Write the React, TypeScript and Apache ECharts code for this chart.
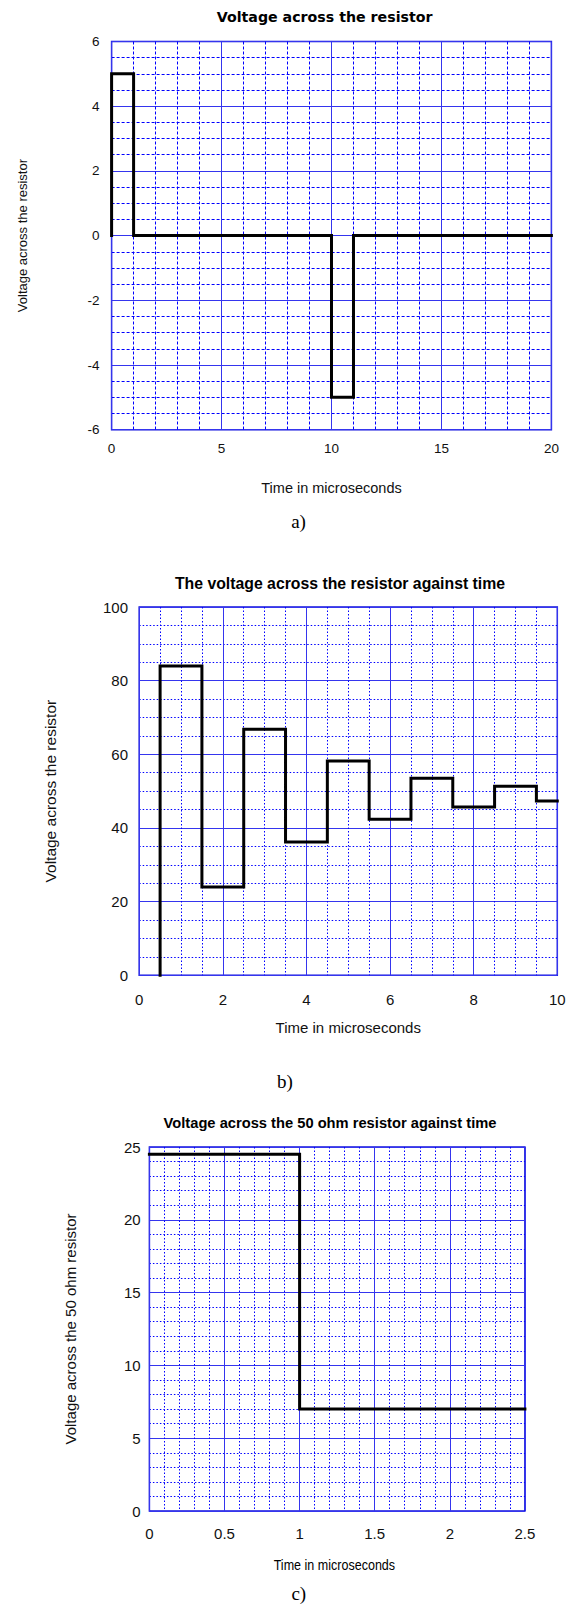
import React, { useEffect, useRef } from "react";
import * as echarts from "echarts";

// ---------- Data ----------
// Chart a) : edges (time, µs) and voltage levels between the edges
const edgesA = [0, 1, 10, 11, 20];
const levelsA = [5, 0, -5, 0];
const baseA = 0;

// Chart b)
const edgesB = [0.5, 1.5, 2.5, 3.5, 4.5, 5.5, 6.5, 7.5, 8.5, 9.5, 10];
const levelsB = [84, 24, 66.8, 36.2, 58.2, 42.4, 53.5, 45.7, 51.3, 47.3];
const baseB = 0;

// Chart c)
const edgesC = [0, 1, 2.5];
const levelsC = [24.5, 7];

// Axis ranges [min, max, interval, minorSplits]
const xAxisA = [0, 20, 5, 5];
const yAxisA = [-6, 6, 2, 4];
const xAxisB = [0, 10, 2, 4];
const yAxisB = [0, 100, 20, 4];
const xAxisC = [0, 2.5, 0.5, 5];
const yAxisC = [0, 25, 5, 5];

const titles = [
  "Voltage across the resistor",
  "The voltage across the resistor against time",
  "Voltage across the 50 ohm resistor against time",
];
const yNames = [
  "Voltage across the resistor",
  "Voltage across the resistor",
  "Voltage across the 50 ohm resistor",
];
const xName = "Time in microseconds";
const subLabels = ["a)", "b)", "c)"];

function stepVertices(edges: number[], levels: number[], base: number | null) {
  const pts: number[][] = [];
  if (base !== null) pts.push([edges[0], base]);
  for (let i = 0; i < levels.length; i++) {
    pts.push([edges[i], levels[i]]);
    pts.push([edges[i + 1], levels[i]]);
  }
  return pts;
}

const ARIAL = '"Liberation Sans", Arial, sans-serif';
const DEJAVU = '"DejaVu Sans", Verdana, sans-serif';
const SERIF = '"Liberation Serif", "Times New Roman", serif';

const MAJOR = "#3535ee";
const MINOR = "#0000ff";

function makeAxis(
  dir: "x" | "y",
  idx: number,
  r: number[],
  name: string,
  labelSize: number,
  margin: number,
  nameSize: number,
  nameGap: number,
  dash: any
) {
  return {
    type: "value",
    gridIndex: idx,
    min: r[0],
    max: r[1],
    interval: r[2],
    name,
    nameLocation: "middle",
    nameGap,
    nameRotate: dir === "y" ? 90 : 0,
    nameTextStyle: { color: "#111", fontSize: nameSize, fontFamily: ARIAL },
    axisLine: { show: false },
    axisTick: { show: false },
    minorTick: { show: false, splitNumber: r[3] },
    axisLabel: { color: "#111", fontSize: labelSize, fontFamily: ARIAL, margin },
    splitLine: { show: true, lineStyle: { color: MAJOR, width: 1, type: "solid" } },
    minorSplitLine: { show: true, lineStyle: { color: MINOR, width: 1, type: dash } },
  };
}

function textEl(text: string, x: number, y: number, font: string, scaleX = 1) {
  return {
    type: "text",
    x,
    y,
    scaleX,
    silent: true,
    style: {
      text,
      font,
      fill: "#000",
      textAlign: "center",
      textVerticalAlign: "middle",
      align: "center",
      verticalAlign: "middle",
    },
  };
}

export default function App() {
  const ref = useRef<HTMLDivElement>(null);

  useEffect(() => {
    if (!ref.current) return;
    const chart = echarts.init(ref.current, undefined, { renderer: "svg" });

    const lineSeries = (idx: number, data: number[][]) => ({
      type: "line",
      xAxisIndex: idx,
      yAxisIndex: idx,
      data,
      showSymbol: false,
      symbol: "none",
      clip: false,
      lineStyle: { color: "#000", width: 3, join: "miter", cap: "square" },
      z: 5,
    });

    const option: any = {
      animation: false,
      backgroundColor: "#fff",
      grid: [
        { left: 111.6, top: 41.5, width: 439.8, height: 388.2, show: true, borderColor: "#1010dd", borderWidth: 1.5 },
        { left: 139.2, top: 607, width: 418.1, height: 368.3, show: true, borderColor: "#1010dd", borderWidth: 1.5 },
        { left: 149.4, top: 1147, width: 375.5, height: 364, show: true, borderColor: "#1010dd", borderWidth: 1.5 },
      ],
      xAxis: [
        makeAxis("x", 0, xAxisA, xName, 13.5, 12, 14.5, 51, [3, 2]),
        makeAxis("x", 1, xAxisB, xName, 15, 16.5, 15, 45, [1.5, 2]),
        makeAxis("x", 2, xAxisC, "", 15, 14.5, 13, 40, [1.5, 2]),
      ],
      yAxis: [
        makeAxis("y", 0, yAxisA, yNames[0], 13.5, 12.2, 13, 82.8, [3, 2]),
        makeAxis("y", 1, yAxisB, yNames[1], 15, 11.2, 15.5, 80.5, [1.5, 2]),
        makeAxis("y", 2, yAxisC, yNames[2], 15, 8.7, 15, 71, [1.5, 2]),
      ],
      series: [
        lineSeries(0, stepVertices(edgesA, levelsA, baseA)),
        lineSeries(1, stepVertices(edgesB, levelsB, baseB)),
        lineSeries(2, stepVertices(edgesC, levelsC, null)),
      ],
      graphic: [
        textEl(titles[0], 324.6, 17, `bold 14.2px ${DEJAVU}`),
        textEl(titles[1], 340, 583, `bold 15.8px ${ARIAL}`),
        textEl(titles[2], 330, 1123, `bold 15px ${ARIAL}`, 0.98),
        textEl(xName, 334.4, 1565, `14.5px ${ARIAL}`, 0.865),
        textEl(subLabels[0], 298.5, 521, `19px ${SERIF}`),
        textEl(subLabels[1], 285, 1081, `19px ${SERIF}`),
        textEl(subLabels[2], 298.8, 1593, `19px ${SERIF}`),
      ],
    };

    chart.setOption(option);
    return () => chart.dispose();
  }, []);

  return (
    <div
      ref={ref}
      style={{ position: "absolute", left: 0, top: 0, width: 570, height: 1606, background: "#fff" }}
    />
  );
}
